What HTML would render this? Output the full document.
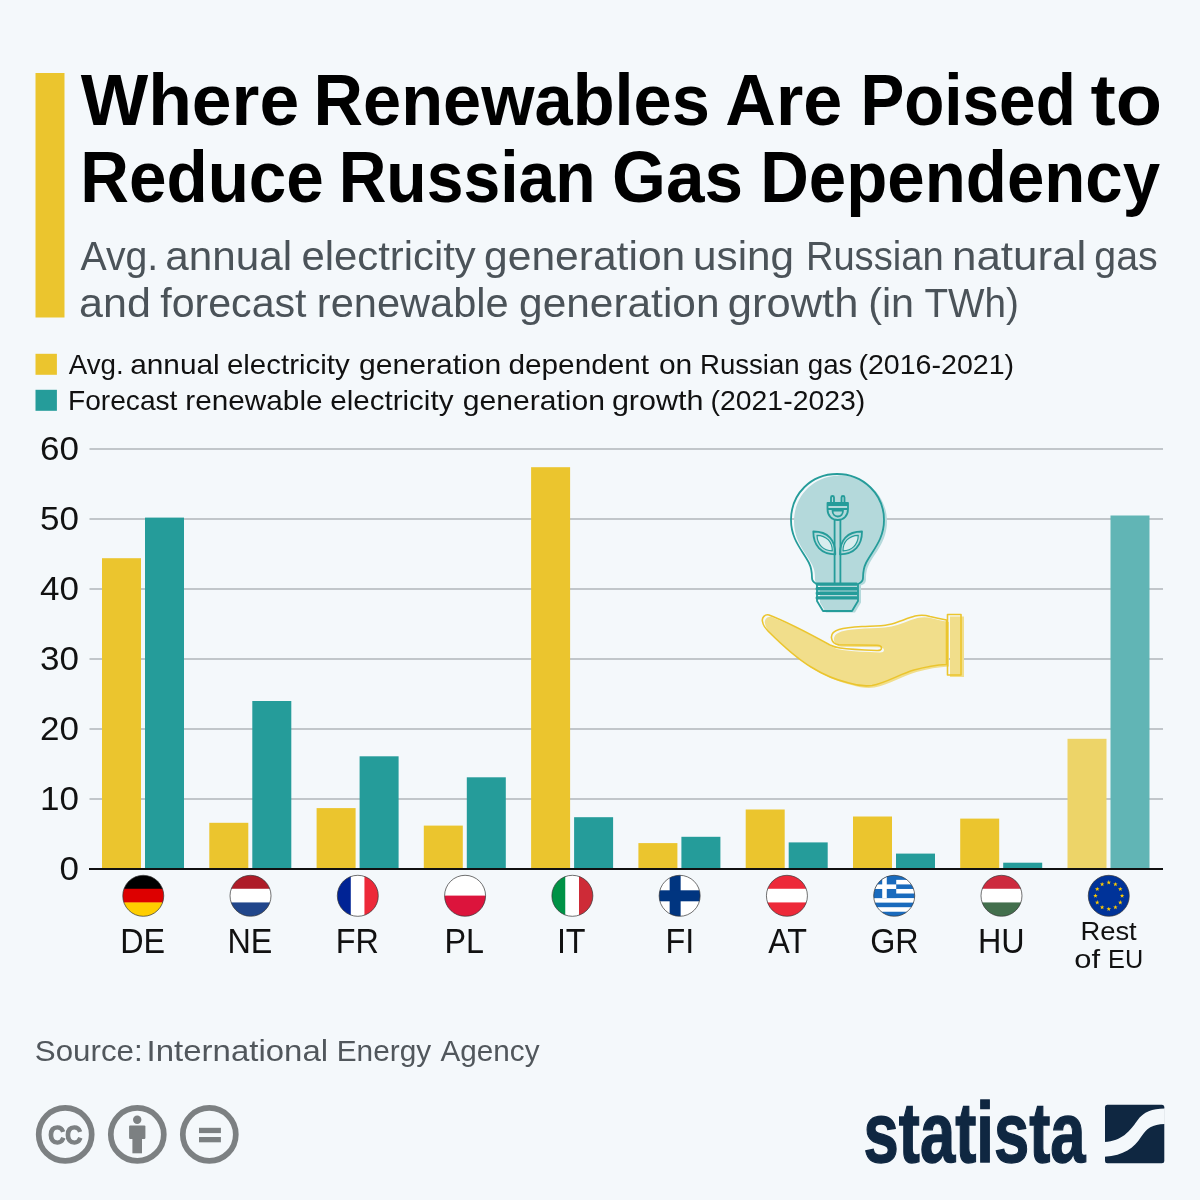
<!DOCTYPE html>
<html lang="en">
<head>
<meta charset="utf-8">
<title>Where Renewables Are Poised to Reduce Russian Gas Dependency</title>
<style>
html,body{margin:0;padding:0;background:#f4f8fb;}
body{width:1200px;height:1200px;overflow:hidden;}
svg{display:block;}
.b{font-family:"Liberation Sans","DejaVu Sans",sans-serif;font-weight:bold;}
.r2{font-family:"Liberation Sans","DejaVu Sans",sans-serif;}
</style>
</head>
<body>
<svg width="1200" height="1200" viewBox="0 0 1200 1200">
<rect width="1200" height="1200" fill="#f4f8fb"/>
<!-- header -->
<rect x="35.5" y="73" width="29" height="244.5" fill="#ebc52e"/>
<text class="b" y="124.6" font-size="71.5" fill="#000"><tspan x="80.70" textLength="218.52" lengthAdjust="spacingAndGlyphs">Where</tspan> <tspan x="313.50" textLength="396.36" lengthAdjust="spacingAndGlyphs">Renewables</tspan> <tspan x="725.34" textLength="116.85" lengthAdjust="spacingAndGlyphs">Are</tspan> <tspan x="860.41" textLength="215.37" lengthAdjust="spacingAndGlyphs">Poised</tspan> <tspan x="1090.64" textLength="71.51" lengthAdjust="spacingAndGlyphs">to</tspan></text>
<text class="b" y="202.3" font-size="71.5" fill="#000"><tspan x="80.28" textLength="243.57" lengthAdjust="spacingAndGlyphs">Reduce</tspan> <tspan x="338.68" textLength="256.86" lengthAdjust="spacingAndGlyphs">Russian</tspan> <tspan x="612.09" textLength="130.97" lengthAdjust="spacingAndGlyphs">Gas</tspan> <tspan x="760.30" textLength="399.86" lengthAdjust="spacingAndGlyphs">Dependency</tspan></text>
<text class="r2" y="269.7" font-size="40" fill="#4b5359"><tspan x="80.50" textLength="77.76" lengthAdjust="spacingAndGlyphs">Avg.</tspan> <tspan x="165.39" textLength="126.65" lengthAdjust="spacingAndGlyphs">annual</tspan> <tspan x="301.41" textLength="174.33" lengthAdjust="spacingAndGlyphs">electricity</tspan> <tspan x="484.12" textLength="201.12" lengthAdjust="spacingAndGlyphs">generation</tspan> <tspan x="693.08" textLength="100.94" lengthAdjust="spacingAndGlyphs">using</tspan> <tspan x="805.89" textLength="137.76" lengthAdjust="spacingAndGlyphs">Russian</tspan> <tspan x="951.96" textLength="134.33" lengthAdjust="spacingAndGlyphs">natural</tspan> <tspan x="1094.28" textLength="63.44" lengthAdjust="spacingAndGlyphs">gas</tspan></text>
<text class="r2" y="317.3" font-size="40" fill="#4b5359"><tspan x="79.10" textLength="71.86" lengthAdjust="spacingAndGlyphs">and</tspan> <tspan x="160.22" textLength="146.33" lengthAdjust="spacingAndGlyphs">forecast</tspan> <tspan x="316.88" textLength="191.76" lengthAdjust="spacingAndGlyphs">renewable</tspan> <tspan x="519.13" textLength="200.35" lengthAdjust="spacingAndGlyphs">generation</tspan> <tspan x="727.83" textLength="130.50" lengthAdjust="spacingAndGlyphs">growth</tspan> <tspan x="868.15" textLength="45.88" lengthAdjust="spacingAndGlyphs">(in</tspan> <tspan x="924.53" textLength="94.39" lengthAdjust="spacingAndGlyphs">TWh)</tspan></text>
<!-- legend -->
<rect x="35.5" y="353.8" width="21.4" height="21" fill="#ebc52e"/>
<rect x="35.5" y="389.8" width="21.4" height="21" fill="#259c9a"/>
<text class="r2" y="374" font-size="28" fill="#111"><tspan x="68.75" textLength="55.01" lengthAdjust="spacingAndGlyphs">Avg.</tspan> <tspan x="130.19" textLength="89.54" lengthAdjust="spacingAndGlyphs">annual</tspan> <tspan x="226.95" textLength="122.74" lengthAdjust="spacingAndGlyphs">electricity</tspan> <tspan x="358.92" textLength="142.35" lengthAdjust="spacingAndGlyphs">generation</tspan> <tspan x="508.44" textLength="140.69" lengthAdjust="spacingAndGlyphs">dependent</tspan> <tspan x="658.93" textLength="33.38" lengthAdjust="spacingAndGlyphs">on</tspan> <tspan x="700.03" textLength="99.61" lengthAdjust="spacingAndGlyphs">Russian</tspan> <tspan x="807.76" textLength="44.63" lengthAdjust="spacingAndGlyphs">gas</tspan> <tspan x="858.46" textLength="155.63" lengthAdjust="spacingAndGlyphs">(2016-2021)</tspan></text>
<text class="r2" y="409.6" font-size="28" fill="#111"><tspan x="67.99" textLength="109.45" lengthAdjust="spacingAndGlyphs">Forecast</tspan> <tspan x="185.38" textLength="137.15" lengthAdjust="spacingAndGlyphs">renewable</tspan> <tspan x="330.19" textLength="123.24" lengthAdjust="spacingAndGlyphs">electricity</tspan> <tspan x="462.67" textLength="142.35" lengthAdjust="spacingAndGlyphs">generation</tspan> <tspan x="611.91" textLength="91.57" lengthAdjust="spacingAndGlyphs">growth</tspan> <tspan x="710.47" textLength="154.87" lengthAdjust="spacingAndGlyphs">(2021-2023)</tspan></text>
<!-- chart -->
<rect x="89.5" y="798.0" width="1073.5" height="2" fill="#c1c6ca"/>
<rect x="89.5" y="728.0" width="1073.5" height="2" fill="#c1c6ca"/>
<rect x="89.5" y="658.0" width="1073.5" height="2" fill="#c1c6ca"/>
<rect x="89.5" y="588.0" width="1073.5" height="2" fill="#c1c6ca"/>
<rect x="89.5" y="518.0" width="1073.5" height="2" fill="#c1c6ca"/>
<rect x="89.5" y="448.0" width="1073.5" height="2" fill="#c1c6ca"/>
<text class="r2" x="59.56" y="880.4" font-size="34" fill="#111" textLength="19.49" lengthAdjust="spacingAndGlyphs">0</text>
<text class="r2" x="39.99" y="810.4" font-size="34" fill="#111" textLength="38.96" lengthAdjust="spacingAndGlyphs">10</text>
<text class="r2" x="39.99" y="740.4" font-size="34" fill="#111" textLength="38.96" lengthAdjust="spacingAndGlyphs">20</text>
<text class="r2" x="39.99" y="670.4" font-size="34" fill="#111" textLength="38.96" lengthAdjust="spacingAndGlyphs">30</text>
<text class="r2" x="39.99" y="600.4" font-size="34" fill="#111" textLength="38.96" lengthAdjust="spacingAndGlyphs">40</text>
<text class="r2" x="39.99" y="530.4" font-size="34" fill="#111" textLength="38.96" lengthAdjust="spacingAndGlyphs">50</text>
<text class="r2" x="39.99" y="460.4" font-size="34" fill="#111" textLength="38.96" lengthAdjust="spacingAndGlyphs">60</text>
<rect x="102.0" y="558.2" width="39" height="310.8" fill="#ebc52e"/>
<rect x="145.0" y="517.6" width="39" height="351.4" fill="#259c9a"/>
<rect x="209.3" y="822.8" width="39" height="46.2" fill="#ebc52e"/>
<rect x="252.3" y="701.0" width="39" height="168.0" fill="#259c9a"/>
<rect x="316.6" y="808.1" width="39" height="60.9" fill="#ebc52e"/>
<rect x="359.6" y="756.3" width="39" height="112.7" fill="#259c9a"/>
<rect x="423.8" y="825.6" width="39" height="43.4" fill="#ebc52e"/>
<rect x="466.8" y="777.3" width="39" height="91.7" fill="#259c9a"/>
<rect x="531.1" y="467.2" width="39" height="401.8" fill="#ebc52e"/>
<rect x="574.1" y="817.2" width="39" height="51.8" fill="#259c9a"/>
<rect x="638.4" y="843.1" width="39" height="25.9" fill="#ebc52e"/>
<rect x="681.4" y="836.8" width="39" height="32.2" fill="#259c9a"/>
<rect x="745.7" y="809.5" width="39" height="59.5" fill="#ebc52e"/>
<rect x="788.7" y="842.4" width="39" height="26.6" fill="#259c9a"/>
<rect x="853.0" y="816.5" width="39" height="52.5" fill="#ebc52e"/>
<rect x="896.0" y="853.6" width="39" height="15.4" fill="#259c9a"/>
<rect x="960.2" y="818.6" width="39" height="50.4" fill="#ebc52e"/>
<rect x="1003.2" y="862.7" width="39" height="6.3" fill="#259c9a"/>
<rect x="1067.5" y="738.8" width="39" height="130.2" fill="#edd468"/>
<rect x="1110.5" y="515.5" width="39" height="353.5" fill="#61b5b5"/>
<rect x="89" y="868" width="1074" height="2" fill="#111"/>
<!-- flags -->
<defs><clipPath id="fc"><circle cx="0" cy="0" r="20.5"/></clipPath></defs>
<g transform="translate(143.25 895.8)"><g clip-path="url(#fc)"><rect x="-21" y="-20.70" width="42" height="14.07" fill="#000"/><rect x="-21" y="-7.03" width="42" height="14.07" fill="#dd0000"/><rect x="-21" y="6.63" width="42" height="14.07" fill="#ffce00"/></g><circle r="20.5" fill="none" stroke="#333" stroke-width="0.7"/></g>
<g transform="translate(250.53 895.8)"><g clip-path="url(#fc)"><rect x="-21" y="-20.70" width="42" height="14.07" fill="#ae1c28"/><rect x="-21" y="-7.03" width="42" height="14.07" fill="#fff"/><rect x="-21" y="6.63" width="42" height="14.07" fill="#21468b"/></g><circle r="20.5" fill="none" stroke="#333" stroke-width="0.7"/></g>
<g transform="translate(357.81 895.8)"><g clip-path="url(#fc)"><rect y="-21" x="-20.70" height="42" width="14.07" fill="#002395"/><rect y="-21" x="-7.03" height="42" width="14.07" fill="#fff"/><rect y="-21" x="6.63" height="42" width="14.07" fill="#ed2939"/></g><circle r="20.5" fill="none" stroke="#333" stroke-width="0.7"/></g>
<g transform="translate(465.09 895.8)"><g clip-path="url(#fc)"><rect x="-21" y="-20.70" width="42" height="20.90" fill="#fff"/><rect x="-21" y="-0.20" width="42" height="20.90" fill="#dc143c"/></g><circle r="20.5" fill="none" stroke="#333" stroke-width="0.7"/></g>
<g transform="translate(572.37 895.8)"><g clip-path="url(#fc)"><rect y="-21" x="-20.70" height="42" width="14.07" fill="#009246"/><rect y="-21" x="-7.03" height="42" width="14.07" fill="#fff"/><rect y="-21" x="6.63" height="42" width="14.07" fill="#ce2b37"/></g><circle r="20.5" fill="none" stroke="#333" stroke-width="0.7"/></g>
<g transform="translate(679.65 895.8)"><g clip-path="url(#fc)"><rect x="-21" y="-21" width="42" height="42" fill="#fff"/><rect x="-10" y="-21" width="11" height="42" fill="#003580"/><rect x="-21" y="-5.5" width="42" height="11" fill="#003580"/></g><circle r="20.5" fill="none" stroke="#333" stroke-width="0.7"/></g>
<g transform="translate(786.93 895.8)"><g clip-path="url(#fc)"><rect x="-21" y="-20.70" width="42" height="14.07" fill="#ed2939"/><rect x="-21" y="-7.03" width="42" height="14.07" fill="#fff"/><rect x="-21" y="6.63" width="42" height="14.07" fill="#ed2939"/></g><circle r="20.5" fill="none" stroke="#333" stroke-width="0.7"/></g>
<g transform="translate(894.21 895.8)"><g clip-path="url(#fc)"><rect x="-21" y="-21" width="42" height="42" fill="#fff"/><rect x="-21" y="-20.50" width="42" height="4.56" fill="#1a6bbd"/><rect x="-21" y="-11.39" width="42" height="4.56" fill="#1a6bbd"/><rect x="-21" y="-2.28" width="42" height="4.56" fill="#1a6bbd"/><rect x="-21" y="6.83" width="42" height="4.56" fill="#1a6bbd"/><rect x="-21" y="15.94" width="42" height="4.56" fill="#1a6bbd"/><rect x="-21" y="-20.5" width="23.00" height="22.78" fill="#1a6bbd"/><rect x="-21" y="-11.39" width="23" height="4.56" fill="#fff"/><rect x="-12.00" y="-20.5" width="4.56" height="22.78" fill="#fff"/></g><circle r="20.5" fill="none" stroke="#333" stroke-width="0.7"/></g>
<g transform="translate(1001.49 895.8)"><g clip-path="url(#fc)"><rect x="-21" y="-20.70" width="42" height="14.07" fill="#cd2a3e"/><rect x="-21" y="-7.03" width="42" height="14.07" fill="#fff"/><rect x="-21" y="6.63" width="42" height="14.07" fill="#436f4d"/></g><circle r="20.5" fill="none" stroke="#333" stroke-width="0.7"/></g>
<g transform="translate(1108.77 895.8)"><g clip-path="url(#fc)"><rect x="-21" y="-21" width="42" height="42" fill="#003399"/><polygon points="0.00,-15.70 0.56,-14.08 2.28,-14.04 0.91,-13.00 1.41,-11.36 0.00,-12.34 -1.41,-11.36 -0.91,-13.00 -2.28,-14.04 -0.56,-14.08" fill="#ffcc00"/><polygon points="6.65,-13.92 7.21,-12.29 8.93,-12.26 7.56,-11.22 8.06,-9.58 6.65,-10.56 5.24,-9.58 5.74,-11.22 4.37,-12.26 6.09,-12.29" fill="#ffcc00"/><polygon points="11.52,-9.05 12.08,-7.43 13.80,-7.39 12.43,-6.35 12.93,-4.71 11.52,-5.69 10.11,-4.71 10.61,-6.35 9.24,-7.39 10.95,-7.43" fill="#ffcc00"/><polygon points="13.30,-2.40 13.86,-0.78 15.58,-0.74 14.21,0.30 14.71,1.94 13.30,0.96 11.89,1.94 12.39,0.30 11.02,-0.74 12.74,-0.78" fill="#ffcc00"/><polygon points="11.52,4.25 12.08,5.87 13.80,5.91 12.43,6.95 12.93,8.59 11.52,7.61 10.11,8.59 10.61,6.95 9.24,5.91 10.95,5.87" fill="#ffcc00"/><polygon points="6.65,9.12 7.21,10.74 8.93,10.78 7.56,11.81 8.06,13.46 6.65,12.48 5.24,13.46 5.74,11.81 4.37,10.78 6.09,10.74" fill="#ffcc00"/><polygon points="0.00,10.90 0.56,12.52 2.28,12.56 0.91,13.60 1.41,15.24 0.00,14.26 -1.41,15.24 -0.91,13.60 -2.28,12.56 -0.56,12.52" fill="#ffcc00"/><polygon points="-6.65,9.12 -6.09,10.74 -4.37,10.78 -5.74,11.81 -5.24,13.46 -6.65,12.48 -8.06,13.46 -7.56,11.81 -8.93,10.78 -7.21,10.74" fill="#ffcc00"/><polygon points="-11.52,4.25 -10.95,5.87 -9.24,5.91 -10.61,6.95 -10.11,8.59 -11.52,7.61 -12.93,8.59 -12.43,6.95 -13.80,5.91 -12.08,5.87" fill="#ffcc00"/><polygon points="-13.30,-2.40 -12.74,-0.78 -11.02,-0.74 -12.39,0.30 -11.89,1.94 -13.30,0.96 -14.71,1.94 -14.21,0.30 -15.58,-0.74 -13.86,-0.78" fill="#ffcc00"/><polygon points="-11.52,-9.05 -10.95,-7.43 -9.24,-7.39 -10.61,-6.35 -10.11,-4.71 -11.52,-5.69 -12.93,-4.71 -12.43,-6.35 -13.80,-7.39 -12.08,-7.43" fill="#ffcc00"/><polygon points="-6.65,-13.92 -6.09,-12.29 -4.37,-12.26 -5.74,-11.22 -5.24,-9.58 -6.65,-10.56 -8.06,-9.58 -7.56,-11.22 -8.93,-12.26 -7.21,-12.29" fill="#ffcc00"/></g><circle r="20.5" fill="none" stroke="#333" stroke-width="0.7"/></g>
<!-- labels -->
<text class="r2" x="120.20" y="952.5" font-size="34.2" fill="#111" textLength="44.89" lengthAdjust="spacingAndGlyphs">DE</text>
<text class="r2" x="227.48" y="952.5" font-size="34.2" fill="#111" textLength="44.89" lengthAdjust="spacingAndGlyphs">NE</text>
<text class="r2" x="335.70" y="952.5" font-size="34.2" fill="#111" textLength="43.07" lengthAdjust="spacingAndGlyphs">FR</text>
<text class="r2" x="444.40" y="952.5" font-size="34.2" fill="#111" textLength="39.53" lengthAdjust="spacingAndGlyphs">PL</text>
<text class="r2" x="556.88" y="952.5" font-size="34.2" fill="#111" textLength="28.72" lengthAdjust="spacingAndGlyphs">IT</text>
<text class="r2" x="665.58" y="952.5" font-size="34.2" fill="#111" textLength="28.72" lengthAdjust="spacingAndGlyphs">FI</text>
<text class="r2" x="768.13" y="952.5" font-size="34.2" fill="#111" textLength="38.89" lengthAdjust="spacingAndGlyphs">AT</text>
<text class="r2" x="870.21" y="952.5" font-size="34.2" fill="#111" textLength="48.46" lengthAdjust="spacingAndGlyphs">GR</text>
<text class="r2" x="977.97" y="952.5" font-size="34.2" fill="#111" textLength="46.67" lengthAdjust="spacingAndGlyphs">HU</text>
<text class="r2" y="939.5" font-size="26.5" fill="#111"><tspan x="1080.43" textLength="56.28" lengthAdjust="spacingAndGlyphs">Rest</tspan></text>
<text class="r2" y="967.5" font-size="26.5" fill="#111"><tspan x="1074.33" textLength="25.79" lengthAdjust="spacingAndGlyphs">of</tspan> <tspan x="1108.09" textLength="35.15" lengthAdjust="spacingAndGlyphs">EU</tspan></text>
<!-- footer -->
<text class="r2" y="1061.2" font-size="29" fill="#51575c"><tspan x="34.84" textLength="107.84" lengthAdjust="spacingAndGlyphs">Source:</tspan> <tspan x="146.59" textLength="181.51" lengthAdjust="spacingAndGlyphs">International</tspan> <tspan x="336.69" textLength="94.44" lengthAdjust="spacingAndGlyphs">Energy</tspan> <tspan x="440.50" textLength="99.00" lengthAdjust="spacingAndGlyphs">Agency</tspan></text>
<!-- illustration -->
<g transform="translate(3 1.5)"><path d="M837,474 C811,474 791,494 791,520 C791,540 803,551 809,563 C812,569 812,574 812,578 C812,582 815,583 817,584 L817,601 L823,611 L852,611 L858,601 L858,584 C860,583 863,582 863,578 C863,574 863,569 866,563 C872,551 884,540 884,520 C884,494 863,474 837,474 Z" fill="#b4d9db"/></g>
<g fill="#259c9a">
<rect x="815.7" y="582.4" width="42" height="3.4" rx="1.2"/>
<rect x="815.7" y="587" width="42" height="3.4" rx="1.2"/>
<rect x="815.7" y="591.6" width="42" height="3.4" rx="1.2"/>
<rect x="815.7" y="596.2" width="42" height="3.4" rx="1.2"/>
</g>
<g fill="none" stroke="#259c9a" stroke-width="1.8" stroke-linejoin="round" stroke-linecap="round">
<path d="M837,474 C811,474 791,494 791,520 C791,540 803,551 809,563 C812,569 812,574 812,578 C812,582 815,583 817,584 L817,601 L823,611 L852,611 L858,601 L858,584 C860,583 863,582 863,578 C863,574 863,569 866,563 C872,551 884,540 884,520 C884,494 863,474 837,474 Z"/>
<path d="M834.6,520 V583 M840.4,520 V583"/>
<path d="M835.3,554.3 C821,554 813.3,545.5 813.3,531.5 C828,531.5 835.6,540 835.3,554.3 Z"/>
<path d="M840,554.3 C854.3,554 862,545.5 862,531.5 C847.3,531.5 839.7,540 840,554.3 Z"/>
<path d="M832.3,550.8 C823.5,550.5 817.3,545 817,535.3 C826.3,535.6 832.3,541.5 832.3,550.8 Z" fill="#d9edee" stroke-width="1.2"/>
<path d="M843,550.8 C851.8,550.5 858,545 858.3,535.3 C849,535.6 843,541.5 843,550.8 Z" fill="#d9edee" stroke-width="1.2"/>
<path d="M827.5,503 H848 V509 C848,516 843.5,520 837.7,520 C832,520 827.5,516 827.5,509 Z M831,503 V497.5 Q831,496 832.5,496 Q834,496 834,497.5 V503 M841.5,503 V497.5 Q841.5,496 843,496 Q844.5,496 844.5,497.5 V503 M827.5,505 H848 V509 H827.5 Z M832.5,510.5 H843 C843,514.5 840.5,516.5 837.7,516.5 C835,516.5 832.5,514.5 832.5,510.5 Z"/>
</g>
<g transform="translate(2.5 2)"><path d="M769,615 C765,614 761.5,617.5 762.5,621.5 C763,625 765,628 768,631 C782,645 796,658 811,667 C823,674.5 836,680 849,683 C857,685.5 865,686.5 872,685.5 C886,683 900,674 914,670 C925,667 936,665 946.5,664.5 L946.5,620 C941,619 936,618 930,616.5 C925,615 920,615 915,616 C906,618.5 898,622.5 889,624.5 C880,626.5 871,626 862,626.5 C854,627 846,627.5 839,629.5 C834,631 831,634 831.5,638 C832,642 835,644.5 839,644.8 L877,645.2 C880,645.3 881.5,646.5 881.5,648 C881.5,649.8 880,650.6 877,650.5 C864,650 851,649.5 840,648 C836,647.5 833,646.5 830,645 C810,634 790,623 769,615 Z" fill="#f1de8b"/><rect x="947.5" y="614.5" width="14" height="60.5" fill="#f1de8b"/></g>
<g fill="none" stroke="#ebc52e" stroke-width="1.6" stroke-linejoin="round" stroke-linecap="round"><path d="M769,615 C765,614 761.5,617.5 762.5,621.5 C763,625 765,628 768,631 C782,645 796,658 811,667 C823,674.5 836,680 849,683 C857,685.5 865,686.5 872,685.5 C886,683 900,674 914,670 C925,667 936,665 946.5,664.5 L946.5,620 C941,619 936,618 930,616.5 C925,615 920,615 915,616 C906,618.5 898,622.5 889,624.5 C880,626.5 871,626 862,626.5 C854,627 846,627.5 839,629.5 C834,631 831,634 831.5,638 C832,642 835,644.5 839,644.8 L877,645.2 C880,645.3 881.5,646.5 881.5,648 C881.5,649.8 880,650.6 877,650.5 C864,650 851,649.5 840,648 C836,647.5 833,646.5 830,645 C810,634 790,623 769,615 Z"/><rect x="947.5" y="614.5" width="13.5" height="60.5"/></g>
<!-- cc icons -->
<g fill="none" stroke="#7c8082" stroke-width="5.7">
<circle cx="65.2" cy="1134.4" r="26.5"/>
<circle cx="137.3" cy="1134.4" r="26.5"/>
<circle cx="209.3" cy="1134.4" r="26.5"/>
</g>
<text class="b" x="65.2" y="1143.6" font-size="25.5" fill="#7c8082" stroke="#7c8082" stroke-width="1.3" text-anchor="middle" textLength="34" lengthAdjust="spacingAndGlyphs">CC</text>
<g fill="#7c8082"><circle cx="137.2" cy="1119.7" r="4.2"/><rect x="129.1" y="1125.5" width="16.3" height="13.4" rx="1"/><rect x="132.4" y="1130" width="9.6" height="23.3"/></g>
<g fill="#7c8082"><rect x="199" y="1127.8" width="21.9" height="5.3"/><rect x="199" y="1137" width="21.9" height="5.3"/></g>
<!-- logo -->
<text class="b" x="863.6" y="1161.8" font-size="85.5" fill="#0f2741" stroke="#0f2741" stroke-width="1.4" textLength="222" lengthAdjust="spacingAndGlyphs">statista</text>
<rect x="1105" y="1104.7" width="59.3" height="58.6" rx="2.5" fill="#0f2741"/>
<path d="M1104.5,1142 C1122,1141 1130,1131 1137,1121 C1144,1111 1152,1109 1164.8,1108.5 L1164.8,1124 C1152,1124.5 1147,1128 1141,1137 C1134,1148 1124,1155.5 1104.5,1156.7 Z" fill="#f4f8fb"/>
</svg>
</body>
</html>
